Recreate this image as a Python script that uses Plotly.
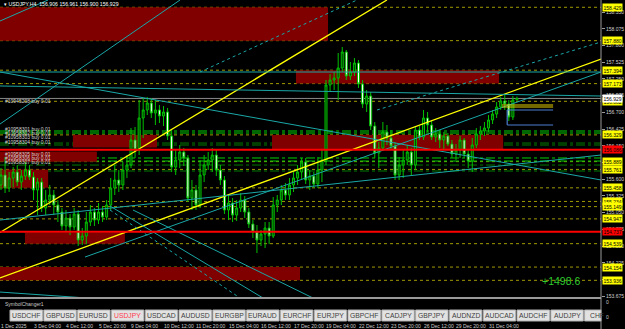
import plotly.graph_objects as go

# ---------------- data ----------------
bar_open = [
    155.505, 155.669, 155.455, 155.620, 155.718, 155.554, 155.652, 155.751, 155.636, 155.422,
    155.554, 155.126, 155.257, 155.340, 155.175, 155.060, 154.830, 154.961, 154.813, 155.027,
    154.599, 154.665, 154.895, 155.060, 154.928, 155.060, 154.977, 155.175, 155.455, 155.587,
    155.505, 155.751, 155.833, 156.245, 156.080, 156.607, 156.739, 156.854, 156.689, 156.739,
    156.640, 156.706, 156.311, 155.800, 155.916, 156.047, 155.949, 155.290, 155.422, 155.175,
    155.669, 155.833, 155.916, 155.998, 155.751, 155.587, 155.093, 155.208, 155.010, 155.126,
    155.257, 155.060, 154.862, 154.731, 154.599, 154.698, 154.797, 154.665, 155.175, 155.257,
    155.422, 155.340, 155.505, 155.620, 155.718, 155.883, 155.587, 155.652, 155.521, 155.751,
    155.916, 157.150, 157.232, 157.265, 157.430, 157.693, 157.298, 157.364, 157.512, 157.167,
    156.837, 156.969, 156.475, 156.031, 156.113, 156.376, 156.278, 156.146, 155.669, 155.833,
    155.916, 156.047, 155.833, 156.409, 156.294, 156.607, 156.492, 156.294, 156.344, 156.245,
    156.311, 156.179, 156.014, 156.080, 156.245, 156.014, 155.899, 156.163, 156.344, 156.393,
    156.442, 156.574, 156.673, 156.788, 156.887, 156.837, 156.623, 156.906,
]
bar_high = [
    155.784, 155.965, 155.718, 155.800, 155.833, 155.751, 155.883, 155.833, 155.718, 155.620,
    155.620, 155.422, 155.505, 155.422, 155.257, 155.126, 155.093, 155.027, 155.126, 155.093,
    154.797, 155.060, 155.175, 155.126, 155.208, 155.159, 155.257, 155.620, 155.833, 155.751,
    155.883, 155.998, 156.442, 156.459, 156.903, 156.936, 156.953, 156.936, 156.903, 156.821,
    156.804, 156.772, 156.409, 156.080, 156.163, 156.113, 155.998, 155.587, 155.505, 155.916,
    155.998, 156.047, 156.113, 156.080, 155.833, 155.652, 155.340, 155.290, 155.257, 155.373,
    155.323, 155.126, 154.928, 154.846, 154.764, 154.895, 154.895, 155.307, 155.340, 155.505,
    155.538, 155.620, 155.718, 155.833, 155.949, 155.949, 155.751, 155.718, 155.965, 156.080,
    157.232, 157.331, 157.364, 157.677, 157.775, 157.726, 157.529, 157.594, 157.561, 157.232,
    157.068, 157.035, 156.541, 156.212, 156.541, 156.492, 156.409, 156.212, 155.965, 156.080,
    156.163, 156.113, 156.475, 156.475, 156.739, 156.706, 156.574, 156.442, 156.409, 156.376,
    156.360, 156.245, 156.179, 156.311, 156.278, 156.080, 156.278, 156.442, 156.475, 156.541,
    156.656, 156.739, 156.870, 156.953, 157.002, 156.903, 156.969, 156.961,
]
bar_low = [
    155.422, 155.373, 155.389, 155.471, 155.488, 155.422, 155.587, 155.587, 155.257, 155.010,
    155.060, 155.010, 155.175, 155.010, 154.895, 154.764, 154.731, 154.681, 154.764, 154.500,
    154.516, 154.533, 154.830, 154.830, 154.862, 154.895, 154.928, 155.093, 155.340, 155.389,
    155.422, 155.620, 155.784, 155.949, 155.998, 156.278, 156.656, 156.607, 156.492, 156.525,
    156.475, 156.245, 155.718, 155.669, 155.784, 155.817, 155.224, 155.093, 155.093, 155.126,
    155.554, 155.751, 155.718, 155.652, 155.505, 155.027, 154.928, 154.895, 154.912, 155.060,
    154.961, 154.797, 154.632, 154.385, 154.500, 154.467, 154.533, 154.632, 155.060, 155.175,
    155.257, 155.257, 155.389, 155.505, 155.587, 155.521, 155.422, 155.455, 155.455, 155.554,
    155.833, 157.035, 157.068, 156.903, 157.364, 157.232, 157.232, 157.298, 157.101, 156.772,
    156.706, 156.409, 155.949, 155.784, 156.080, 156.163, 156.080, 155.587, 155.587, 155.620,
    155.833, 155.669, 155.751, 156.245, 156.245, 156.376, 156.245, 156.212, 156.113, 156.080,
    156.146, 155.949, 155.916, 155.949, 155.949, 155.784, 155.718, 156.113, 156.245, 156.311,
    156.376, 156.508, 156.607, 156.739, 156.739, 156.558, 156.574, 156.900,
]
bar_close = [
    155.669, 155.455, 155.620, 155.718, 155.554, 155.652, 155.751, 155.636, 155.422, 155.554,
    155.126, 155.257, 155.340, 155.175, 155.060, 154.830, 154.961, 154.813, 155.027, 154.599,
    154.665, 154.895, 155.060, 154.928, 155.060, 154.977, 155.175, 155.455, 155.587, 155.505,
    155.751, 155.833, 156.245, 156.080, 156.607, 156.739, 156.854, 156.689, 156.739, 156.640,
    156.706, 156.311, 155.800, 155.916, 156.047, 155.949, 155.290, 155.422, 155.175, 155.669,
    155.833, 155.916, 155.998, 155.751, 155.587, 155.093, 155.208, 155.010, 155.126, 155.257,
    155.060, 154.862, 154.731, 154.599, 154.698, 154.797, 154.665, 155.175, 155.257, 155.422,
    155.340, 155.505, 155.620, 155.718, 155.883, 155.587, 155.652, 155.521, 155.751, 155.916,
    157.150, 157.232, 157.265, 157.430, 157.693, 157.298, 157.364, 157.512, 157.167, 156.837,
    156.969, 156.475, 156.031, 156.113, 156.376, 156.278, 156.146, 155.669, 155.833, 155.916,
    156.047, 155.833, 156.409, 156.294, 156.607, 156.492, 156.294, 156.344, 156.245, 156.311,
    156.179, 156.014, 156.080, 156.245, 156.014, 155.899, 156.163, 156.344, 156.393, 156.442,
    156.574, 156.673, 156.788, 156.887, 156.837, 156.623, 156.903, 156.929,
]
bar_index = list(range(len(bar_close)))

date_label_bars = [0, 8, 16, 24, 32, 40, 48, 56, 64, 72, 80, 88, 96, 104, 112, 120]
date_labels = ["1 Dec 2025", "3 Dec 04:00", "4 Dec 12:00", "5 Dec 20:00", "9 Dec 04:00",
               "10 Dec 12:00", "11 Dec 20:00", "15 Dec 04:00", "16 Dec 12:00", "17 Dec 20:00",
               "19 Dec 04:00", "22 Dec 12:00", "23 Dec 20:00", "26 Dec 12:00", "29 Dec 20:00",
               "31 Dec 04:00"]

price_ticks = [158.350, 158.075, 157.800, 157.525, 157.250, 156.975, 156.700, 156.425, 156.150,
               155.875, 155.600, 155.325, 155.050, 154.775, 154.500, 154.225, 153.950, 153.675]
# tick values whose text is fully hidden under a level label in the reference
hidden_ticks = [155.875, 153.950]

# supply / demand zones
zone_start = [-1, 72.6, 17.7, 66.7, -1, -1, 5.9, -1]
zone_end = [80.5, 122.6, 38.4, 123.6, 23.6, 11.6, 30.5, 73.6]
zone_low = [157.880, 157.173, 156.120, 156.086, 155.889, 155.458, 154.539, 153.936]
zone_high = [158.429, 157.394, 156.329, 156.329, 156.054, 155.761, 154.720, 154.154]

# dotted levels with yellow price labels
level_prices = [158.429, 157.880, 157.394, 157.173, 156.882, 156.329, 155.889, 155.761,
                155.458, 155.234, 155.149, 154.947, 154.539, 154.154, 153.936]
red_levels = [156.086, 154.737]
bid_price = 156.929

# open order lines
order_prices = [156.393, 156.360, 156.195, 156.163, 155.949, 155.899, 155.833, 155.735]
order_label_prices = [156.887, 156.426, 156.360, 156.294, 156.212, 156.014, 155.949, 155.883]
order_labels = ["#10945208 buy 0.01", "#10958301 buy 0.01", "#10958302 buy 0.01",
                "#10958303 buy 0.01", "#10958304 buy 0.01", "#10958305 buy 0.01",
                "#10958306 buy 0.01", "#10958307 buy 0.01"]

# trend lines (bar, price) -> (bar, price)
trend_b0 = [-0.25, -0.25, -0.25, -0.25, -0.25, -0.25, -0.25, 20.68, -0.25, 92.55, 48.98, 26.83, 32.49, 26.83, -0.25]
trend_p0 = [153.974, 154.723, 158.203, 156.508, 157.364, 157.134, 154.928, 154.319, 157.364, 156.739, 157.364, 155.093, 155.093, 155.159, 153.743]
trend_b1 = [147.7, 95.0, 11.57, 44.06, 147.7, 147.7, 147.7, 147.7, 147.7, 147.7, 87.63, 58.83, 76.8, 64.49, 21.17]
trend_p1 = [157.578, 158.549, 158.549, 158.549, 155.587, 156.969, 155.998, 157.364, 157.364, 157.858, 158.549, 153.645, 153.645, 153.645, 153.645]
trend_kind = ["yellow", "yellow", "cyan", "cyan", "cyan", "cyan", "cyan", "cyan", "cyan", "cyandot",
              "cyandot", "cyandot", "cyan", "cyan", "cyan"]

# position markers near last price
pos_b0 = [123.3, 123.3, 124.6, 124.6]
pos_b1 = [135.9, 135.9, 135.9, 135.9]
pos_p = [156.821, 156.788, 156.739, 156.492]
pos_kind = ["gold", "gold", "blue", "blue"]

symbols = ["USDCHF", "GBPUSD", "EURUSD", "USDJPY", "USDCAD", "AUDUSD", "EURGBP", "EURAUD",
           "EURCHF", "EURJPY", "GBPCHF", "CADJPY", "GBPJPY", "AUDNZD", "AUDCAD", "AUDCHF",
           "AUDJPY", "CHF"]
active_symbol = "USDJPY"

# ---------------- layout constants ----------------
W, H = 625, 329
PLOT_R = 601          # px, right edge of chart area
MAIN_BOTTOM = 298     # px
X_RANGE = [-0.246, 147.69]
Y_RANGE = [153.645, 158.549]

def px_x(px):
    return px / W

def px_y(py):
    return 1 - py / H

FONT = "Liberation Sans, Arial, sans-serif"
styles = {
    "yellow": dict(color="#ffff00", width=1.3),
    "cyan": dict(color="#1aa7a7", width=1),
    "cyandot": dict(color="#1aa7a7", width=1, dash="dot"),
    "gold": dict(color="#e8d000", width=1.2),
    "blue": dict(color="#4a7fd0", width=1.2),
}

fig = go.Figure()

fig.add_trace(go.Candlestick(
    x=bar_index, open=bar_open, high=bar_high, low=bar_low, close=bar_close,
    increasing=dict(line=dict(color="#00c000", width=1), fillcolor="#003a00"),
    decreasing=dict(line=dict(color="#00c000", width=1), fillcolor="#ffffff"),
    whiskerwidth=0, hoverinfo="skip", xaxis="x", yaxis="y",
))

for b0, p0, b1, p1, kind in zip(trend_b0, trend_p0, trend_b1, trend_p1, trend_kind):
    fig.add_trace(go.Scatter(x=[b0, b1], y=[p0, p1], mode="lines", line=styles[kind],
                             hoverinfo="skip", xaxis="x", yaxis="y"))

for b0, b1, p, kind in zip(pos_b0, pos_b1, pos_p, pos_kind):
    fig.add_trace(go.Scatter(x=[b0, b1], y=[p, p], mode="lines", line=styles[kind],
                             hoverinfo="skip", xaxis="x", yaxis="y"))
fig.add_trace(go.Scatter(x=[pos_b0[2], pos_b0[3]], y=[pos_p[2], pos_p[3]], mode="lines",
                         line=styles["blue"], hoverinfo="skip", xaxis="x", yaxis="y"))

shapes = []
for x0, x1, lo, hi in zip(zone_start, zone_end, zone_low, zone_high):
    shapes.append(dict(type="rect", xref="x", yref="y", x0=x0, x1=x1, y0=lo, y1=hi,
                       fillcolor="#800000", line=dict(width=0), layer="below"))
for p in level_prices:
    shapes.append(dict(type="line", xref="x domain", yref="y", x0=0, x1=1, y0=p, y1=p,
                       line=dict(color="#a09a00", width=1, dash="dot"), layer="below"))
for i, p in enumerate(order_prices):
    col = "#00d000" if i in (0, 1, 4, 5) else "#007a00"
    shapes.append(dict(type="line", xref="x domain", yref="y", x0=0, x1=1, y0=p, y1=p,
                       line=dict(color=col, width=1, dash="dashdot"), layer="below"))
shapes.append(dict(type="line", xref="x domain", yref="y", x0=0, x1=1, y0=bid_price, y1=bid_price,
                   line=dict(color="#8a8a8a", width=1), layer="below"))
for p in red_levels:
    shapes.append(dict(type="line", xref="x domain", yref="y", x0=0, x1=1, y0=p, y1=p,
                       line=dict(color="#ff0000", width=2), layer="above"))

# window frame
shapes.append(dict(type="line", xref="paper", yref="paper", x0=0, x1=px_x(PLOT_R),
                   y0=px_y(MAIN_BOTTOM), y1=px_y(MAIN_BOTTOM), line=dict(color="#9a9a9a", width=2)))
shapes.append(dict(type="line", xref="paper", yref="paper", x0=px_x(PLOT_R), x1=px_x(PLOT_R),
                   y0=0, y1=1, line=dict(color="#9a9a9a", width=1)))

annotations = []
# symbol buttons
for i, s in enumerate(symbols):
    bx0 = 10 + 33.8 * i
    bx1 = min(bx0 + 32.5, PLOT_R)
    shapes.append(dict(type="rect", xref="paper", yref="paper", x0=px_x(bx0), x1=px_x(bx1),
                       y0=px_y(321), y1=px_y(310), fillcolor="#e2e2e2",
                       line=dict(color="#b0b0b0", width=1)))
    last = bx0 + 32.5 > PLOT_R
    annotations.append(dict(xref="paper", yref="paper",
                            x=px_x(bx0 + 3 if last else (bx0 + bx1) / 2),
                            xanchor="left" if last else "center",
                            y=px_y(315.8), yanchor="middle", text=s, showarrow=False,
                            font=dict(family=FONT, size=6.8,
                                      color="#ff3b4e" if s == active_symbol else "#404040")))

# date labels
for b, t in zip(date_label_bars, date_labels):
    annotations.append(dict(xref="x", yref="paper", x=b, xanchor="left", xshift=-2,
                            y=px_y(325.5), yanchor="middle", text=t, showarrow=False,
                            font=dict(family=FONT, size=5, color="#d0d0d0")))

# yellow / red / white price labels
for p in level_prices:
    annotations.append(dict(xref="paper", yref="y", x=px_x(PLOT_R + 1), xanchor="left", y=p,
                            yanchor="middle", text=f"{p:.3f}", showarrow=False, bgcolor="#ffff00",
                            borderpad=0.5, font=dict(family=FONT, size=5, color="#000000")))
for p in red_levels:
    annotations.append(dict(xref="paper", yref="y", x=px_x(PLOT_R + 1), xanchor="left", y=p,
                            yanchor="middle", text=f"{p:.3f}", showarrow=False, bgcolor="#ff0000",
                            borderpad=0.5, font=dict(family=FONT, size=5, color="#000000")))
annotations.append(dict(xref="paper", yref="y", x=px_x(PLOT_R + 1), xanchor="left", y=bid_price,
                        yanchor="middle", text=f"{bid_price:.3f}", showarrow=False, bgcolor="#ffffff",
                        borderpad=0.5, font=dict(family=FONT, size=5, color="#000000")))

# order labels
for p, t in zip(order_label_prices, order_labels):
    annotations.append(dict(xref="paper", yref="y", x=px_x(3), xanchor="left", y=p,
                            yanchor="middle", text=t, showarrow=False,
                            font=dict(family=FONT, size=5, color="#d8d8d8")))

# header and texts
annotations.append(dict(xref="paper", yref="paper", x=px_x(2), xanchor="left", y=px_y(4),
                        yanchor="middle", text="▾ USDJPY,H4  156.906 156.961 156.900 156.929",
                        showarrow=False, font=dict(family=FONT, size=5.2, color="#ffffff")))
annotations.append(dict(xref="paper", yref="paper", x=px_x(540), xanchor="left", y=px_y(281),
                        yanchor="middle", text="+1498.6", showarrow=False,
                        font=dict(family=FONT, size=10.5, color="#2ecc2e")))
annotations.append(dict(xref="paper", yref="paper", x=px_x(3), xanchor="left", y=px_y(304),
                        yanchor="middle", text="SymbolChanger1", showarrow=False,
                        font=dict(family=FONT, size=5, color="#c8c8c8")))
for yy in (301.7, 316.7):
    annotations.append(dict(xref="paper", yref="paper", x=px_x(PLOT_R + 3), xanchor="left",
                            y=px_y(yy), yanchor="middle", text="0", showarrow=False,
                            font=dict(family=FONT, size=5, color="#c8c8c8")))

tick_text = ["" if v in hidden_ticks else f"{v:.3f}" for v in price_ticks]

fig.update_layout(
    width=W, height=H, margin=dict(l=0, r=0, t=0, b=0),
    paper_bgcolor="#000000", plot_bgcolor="#000000", showlegend=False,
    shapes=shapes, annotations=annotations,
    xaxis=dict(domain=[0, px_x(PLOT_R)], range=X_RANGE, showgrid=False, zeroline=False,
               showticklabels=False, ticks="", rangeslider=dict(visible=False), fixedrange=True),
    yaxis=dict(domain=[px_y(MAIN_BOTTOM), 1], range=Y_RANGE, side="right", showgrid=False,
               zeroline=False, tickvals=price_ticks, ticktext=tick_text,
               ticks="outside", ticklen=3, tickcolor="#9a9a9a",
               tickfont=dict(family=FONT, size=5, color="#d0d0d0"), showline=False),
)

fig.write_html("out.html")
